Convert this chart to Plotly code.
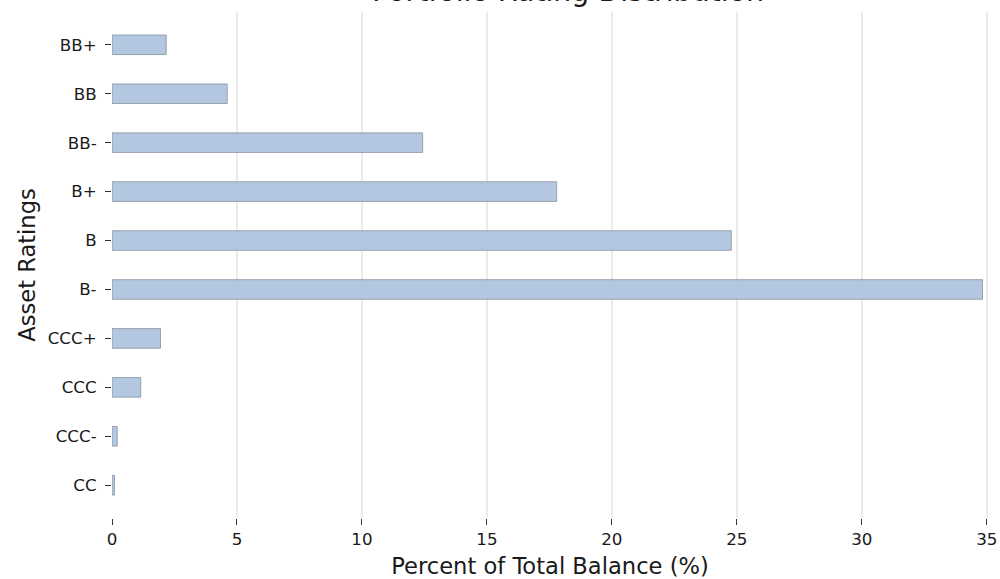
import plotly.graph_objects as go

ratings = ["CC", "CCC-", "CCC", "CCC+", "B-", "B", "B+", "BB-", "BB", "BB+"]
percent = [0.10, 0.21, 1.15, 1.94, 34.83, 24.78, 17.79, 12.43, 4.61, 2.17]
x_ticks = [0, 5, 10, 15, 20, 25, 30, 35]

FONT = "DejaVu Sans"
W, H = 1000, 579
L, R, TOP, BOTTOM = 111.5, 12, 12, 61
PLOT_H = H - TOP - BOTTOM
PLOT_W = W - L - R

fig = go.Figure(go.Bar(
    x=percent,
    y=ratings,
    orientation="h",
    width=0.4,
    marker=dict(color="rgba(176,196,222,0.95)",
                line=dict(color="rgba(130,140,155,0.75)", width=1)),
    showlegend=False,
))

fig.update_layout(
    width=W, height=H,
    margin=dict(l=L, r=R, t=TOP, b=BOTTOM),
    plot_bgcolor="white", paper_bgcolor="white",
    font=dict(family=FONT, color="#1a1a1a", size=16.7),
)

fig.add_annotation(
    text="Portfolio Rating Distribution",
    xref="paper", yref="paper",
    x=(568 - L) / PLOT_W, y=1 + (TOP + 9) / PLOT_H,
    xanchor="center", yanchor="middle", showarrow=False,
    font=dict(size=28.4, family=FONT, color="#1a1a1a"),
)

fig.update_xaxes(
    range=[0, 35.05],
    tickvals=x_ticks,
    ticktext=[str(v) for v in x_ticks],
    showgrid=True, gridcolor="#ebebeb", gridwidth=1.5,
    zeroline=False, showline=False,
    ticks="outside", ticklen=6, tickwidth=1, tickcolor="#333333",
    tickfont=dict(size=16.7),
    automargin=False,
    title=dict(text="Percent of Total Balance (%)", font=dict(size=22.6), standoff=10),
)
fig.update_yaxes(
    categoryorder="array", categoryarray=ratings,
    range=[-0.67, 9.67],
    showgrid=False, zeroline=False, showline=False,
    ticks="outside", ticklen=6, tickwidth=1, tickcolor="#333333",
    tickfont=dict(size=16.7),
    ticklabelstandoff=5,
    automargin=False,
    title=dict(text="Asset Ratings", font=dict(size=22.6), standoff=5),
)

fig.write_html("out.html", config={"displayModeBar": False},
               post_script="document.body.style.margin='0';")
